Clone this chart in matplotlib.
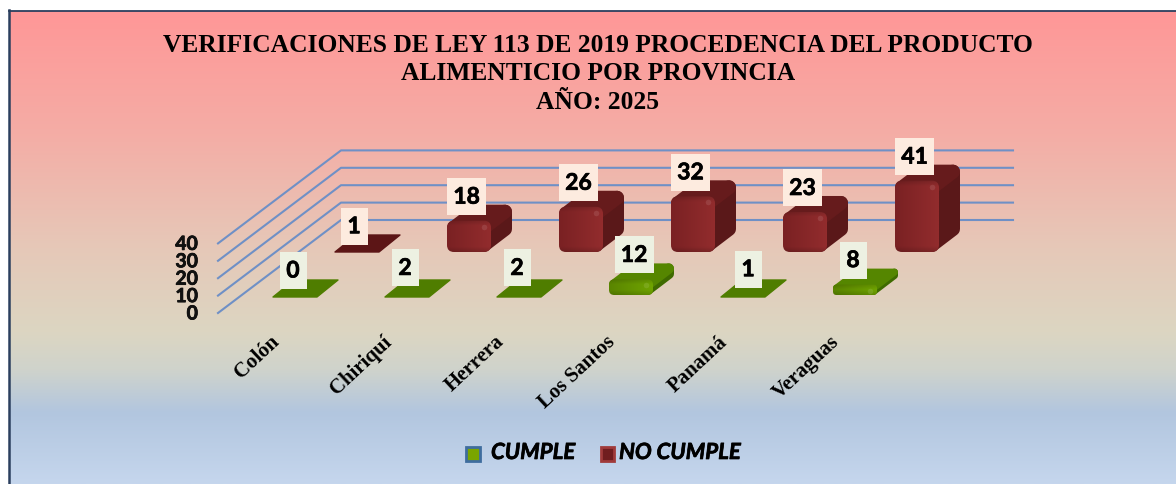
import numpy as np
import matplotlib
matplotlib.use("Agg")
import matplotlib.pyplot as plt
import matplotlib.patheffects as pe
from matplotlib.colors import LinearSegmentedColormap, to_rgb
from matplotlib.patches import FancyBboxPatch, Polygon, Rectangle

provincias = ["Colón", "Chiriquí", "Herrera", "Los Santos", "Panamá", "Veraguas"]
cumple = [0, 2, 2, 12, 1, 8]
no_cumple = [1, 18, 26, 32, 23, 41]
y_ticks = [0, 10, 20, 30, 40]
titulo = ("VERIFICACIONES DE LEY 113 DE 2019 PROCEDENCIA DEL PRODUCTO\n"
          "ALIMENTICIO POR PROVINCIA\nAÑO: 2025")

W, H = 1176, 484
STEP = 112
BAR_W = 44
DX, DY = 21, 16

SERIF = "Liberation Serif"
SANS = ["Lato", "Noto Sans", "DejaVu Sans"]
HEAVY = [pe.withStroke(linewidth=0.5, foreground="black")]

green = dict(x0=273, base=297, lift=2, gap=8, scale=1.3, front_dark="#5a8500", front_light="#6fa300",
             side="#3f6a00", top="#558600", flat="#4f7d00", box="#edf1e2")
red = dict(x0=335, base=252, lift=0, gap=5.5, scale=1.74, front_dark="#7a2123", front_light="#922c2d",
           side="#5a1819", top="#661b1c", flat="#5c1516", box="#fdebdf")

fig = plt.figure(figsize=(W / 100, H / 100), dpi=100, facecolor="white")
ax = fig.add_axes([0, 0, 1, 1])
ax.set_xlim(0, W)
ax.set_ylim(H, 0)
ax.axis("off")

# background gradient
bg = LinearSegmentedColormap.from_list("bg", [
    (0.00, "#ff9797"), (0.25, "#f5aca5"), (0.50, "#e6c8b8"), (0.68, "#dcd6c2"),
    (0.76, "#cfd3cc"), (0.85, "#b2c6df"), (1.00, "#c5d6ed")])
ax.imshow(np.linspace(0, 1, 256).reshape(-1, 1), cmap=bg, aspect="auto",
          extent=(9, W, H, 11), zorder=0)
ax.plot([W, 9], [10.8, 10.8], color="#2b3f5e", lw=1.3, zorder=1)
ax.plot([9, 9], [10, H], color="#2b3f5e", lw=1.8, zorder=1)

# 3d grid
GRID_Y0, GRID_PX = 313, 1.74
for t in y_ticks:
    yf = GRID_Y0 - t * GRID_PX
    ax.plot([218, 341, 1013], [yf, yf - 93, yf - 93], color="#6f90c6", lw=1.5, zorder=2)
    ax.text(198, yf + 1, str(t), ha="right", va="center", fontsize=14,
            fontweight="bold", family=SANS, color="#111111", zorder=3, path_effects=HEAVY)


def draw_bar(x, px, s, z):
    if px < 5:
        # thin plate
        base = s["base"]
        ax.add_patch(Polygon([(x, base), (x + BAR_W, base), (x + BAR_W + DX, base - DY - 1),
                              (x + DX, base - DY - 1)], closed=True, fc=s["flat"],
                             ec=s["flat"], lw=1, joinstyle="round", zorder=z))
        return
    base = s["base"] - s["lift"]
    top = base - px
    r = min(7, px / 3)
    lw = 2 * r * 0.72
    ax.add_patch(Polygon([(x + BAR_W - r, top + r), (x + BAR_W + DX - r, top - DY + r),
                          (x + BAR_W + DX - r, base - DY - r), (x + BAR_W - r, base - r)],
                         closed=True, fc=s["side"], ec=s["side"], lw=lw, joinstyle="round", zorder=z))
    ax.add_patch(Polygon([(x + r, top + r), (x + DX + r, top - DY + r),
                          (x + BAR_W + DX - r, top - DY + r), (x + BAR_W - r, top + r)],
                         closed=True, fc=s["top"], ec=s["top"], lw=lw, joinstyle="round", zorder=z))
    # front face with shading
    clip = FancyBboxPatch((x + r, top + r), BAR_W - 2 * r, px - 2 * r,
                          boxstyle=f"round,pad={r},rounding_size={r}", fc="none", ec="none",
                          transform=ax.transData)
    ax.add_patch(clip)
    dark, light = np.array(to_rgb(s["front_dark"])), np.array(to_rgb(s["front_light"]))
    u = np.linspace(0, 1, 44)[None, :, None]
    v = np.linspace(0, 1, 40)[:, None, None]
    rgb = dark + (light - dark) * u
    edge = np.clip(1 - np.minimum(v, 1 - v) * px / 5, 0, 1)
    rgb = rgb * (1 - 0.14 * edge)
    im = ax.imshow(rgb, aspect="auto", extent=(x, x + BAR_W, base, top), zorder=z + 0.1)
    im.set_clip_path(clip)
    ax.plot(x + BAR_W - 7, top + 6, "o", ms=4, color="white", alpha=0.1, mew=0, zorder=z + 0.2)


def draw_label(x, px, val, s, dx=20):
    w = 39 if val >= 10 else 27
    bottom = s["base"] - px - s["gap"]
    cx = x + dx
    ax.add_patch(Rectangle((cx - w / 2, bottom - 37), w, 37, fc=s["box"], ec="none", zorder=20))
    ax.text(cx, bottom - 18, str(val), ha="center", va="center", fontsize=16.5,
            fontweight="bold", family=SANS, color="black", zorder=21, path_effects=HEAVY)


for i, val in enumerate(no_cumple):
    draw_bar(red["x0"] + i * STEP, val * red["scale"], red, 5 + 0.5 * i)
for i, val in enumerate(cumple):
    draw_bar(green["x0"] + i * STEP, val * green["scale"], green, 10 + 0.5 * i)

label_dx = {3: 25, 4: 27}
for i, val in enumerate(no_cumple):
    draw_label(red["x0"] + i * STEP, val * red["scale"], val, red, 19 if val < 10 else 19.5)
for i, val in enumerate(cumple):
    draw_label(green["x0"] + i * STEP, val * green["scale"], val, green, label_dx.get(i, 20))

# category labels
for i, name in enumerate(provincias):
    ax.text(270 + i * STEP, 332, name, rotation=43, rotation_mode="anchor", ha="right", va="top",
            fontsize=15, fontweight="bold", family=SERIF, color="black", zorder=3)

ax.text(598, 74, titulo, ha="center", va="center", fontsize=18.35, fontweight="bold",
        family=SERIF, color="black", linespacing=1.32, zorder=3)

# legend
ax.add_patch(Rectangle((466, 447), 14, 14, fc="#7aa500", ec="#3f6d9e", lw=2, zorder=3))
ax.add_patch(Rectangle((600.5, 447), 13, 14, fc="#701d1f", ec="#a03a3a", lw=2, zorder=3))
ax.text(491, 452.5, "CUMPLE", ha="left", va="center", fontsize=16, fontweight="bold",
        style="italic", family=SANS, color="black", zorder=3, path_effects=HEAVY)
ax.text(619, 452.5, "NO CUMPLE", ha="left", va="center", fontsize=16, fontweight="bold",
        style="italic", family=SANS, color="black", zorder=3, path_effects=HEAVY)

fig.savefig("out.png", dpi=100, facecolor="white")
